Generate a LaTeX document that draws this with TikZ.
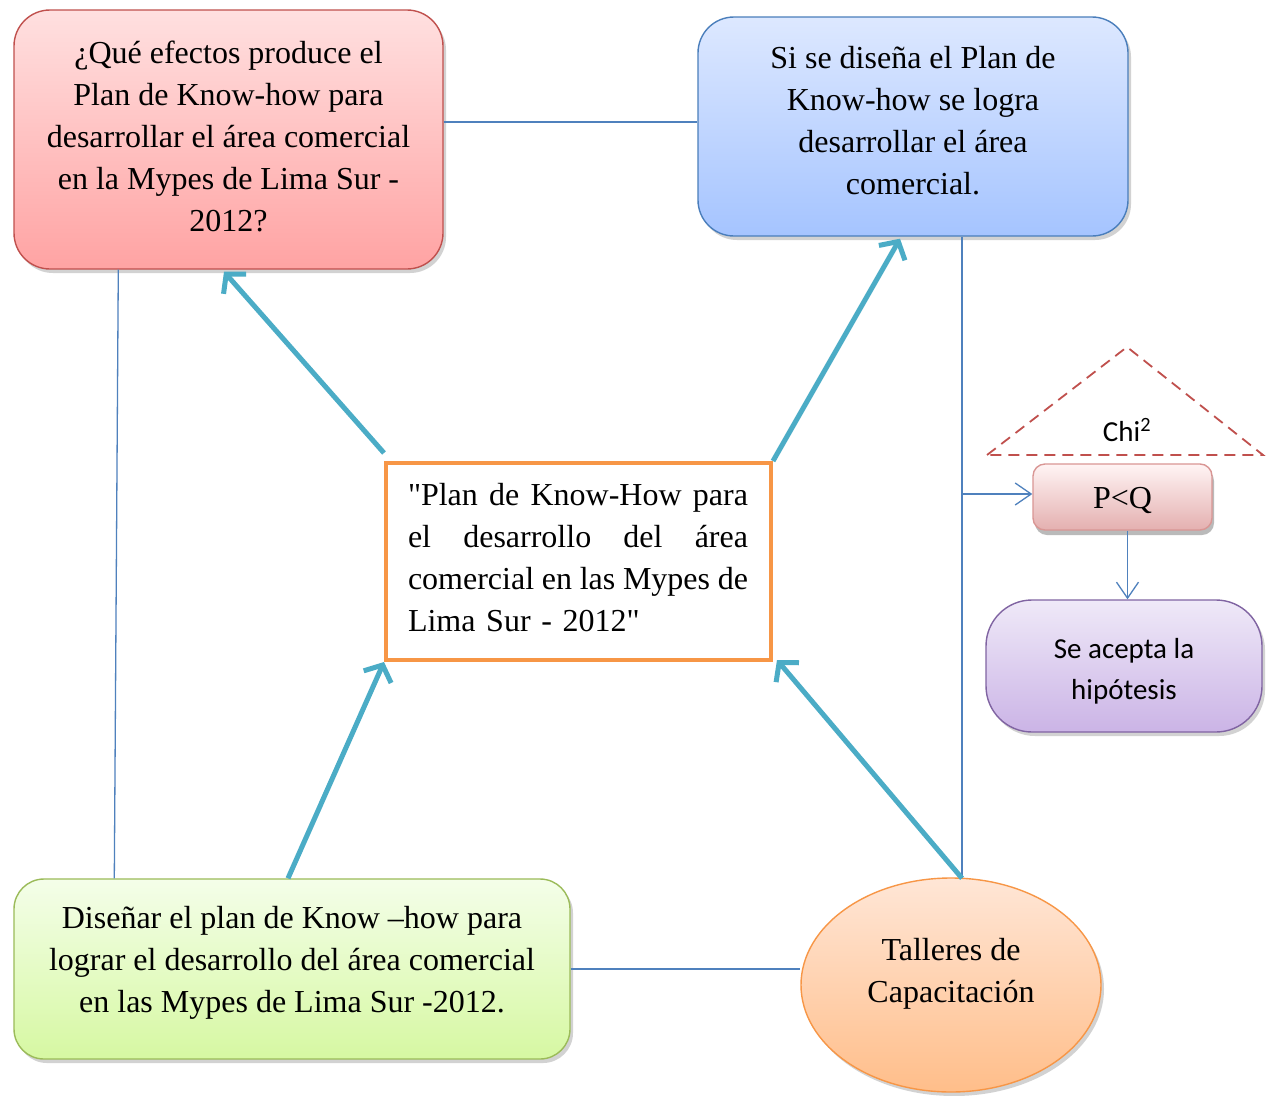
\documentclass[tikz,border=0pt]{standalone}
\usepackage{fontspec}
\setmainfont{Liberation Serif}[Ligatures=TeXOff]
\newfontfamily\calib{Carlito}
\usetikzlibrary{arrows.meta,shadows,shapes.geometric,calc}
\definecolor{redB}{HTML}{C0504D}
\definecolor{redT}{HTML}{FFE0E0}
\definecolor{redL}{HTML}{FFA3A3}
\definecolor{bluB}{HTML}{4A7EBB}
\definecolor{bluT}{HTML}{DDE8FF}
\definecolor{bluL}{HTML}{A5C4FF}
\definecolor{grnB}{HTML}{9BBB59}
\definecolor{grnT}{HTML}{F4FEE9}
\definecolor{grnL}{HTML}{D6F8A2}
\definecolor{orgB}{HTML}{F79646}
\definecolor{orgT}{HTML}{FFE6D6}
\definecolor{orgL}{HTML}{FFBE8A}
\definecolor{pqB}{HTML}{D99694}
\definecolor{pqT}{HTML}{FFF4F4}
\definecolor{pqL}{HTML}{E4B0B0}
\definecolor{purB}{HTML}{8064A2}
\definecolor{purT}{HTML}{EFE9F8}
\definecolor{purL}{HTML}{CBB4E6}
\definecolor{lnk}{HTML}{4F81BD}
\definecolor{tealA}{HTML}{4BACC6}
\newcommand{\jline}[1]{\makebox[340pt][s]{\spaceskip=0.12em plus 1fil #1}}
\begin{document}
\begin{tikzpicture}[x=1pt,y=-1pt,
  shapebox/.style={draw, line width=1.4pt, inner sep=0pt,
    drop shadow={shadow xshift=3pt, shadow yshift=-4pt, opacity=0.25, fill=black!70}},
  txt/.style={font=\fontsize{32}{42}\selectfont, align=center, inner sep=0pt},
  stxt/.style={font=\calib\fontsize{29}{40.5}\selectfont, align=center, inner sep=0pt},
  link/.style={draw=lnk, line width=1.3pt},
  linkarrow/.style={link, -{Straight Barb[length=16pt,width=22pt]}},
  tealarrow/.style={draw=tealA, line width=5pt, -{Straight Barb[length=13pt,width=30pt]}}
]
\useasboundingbox (0,0) rectangle (1274,1095);
\fill[white] (0,0) rectangle (1274,1095);

% shapes
\node[shapebox, rectangle, rounded corners=36pt, draw=redB, top color=redT, bottom color=redL,
      minimum width=429pt, minimum height=259pt] (red) at (228.5,139.5) {};
\node[shapebox, rectangle, rounded corners=36pt, draw=bluB, top color=bluT, bottom color=bluL,
      minimum width=430pt, minimum height=219pt] (blue) at (913,126.5) {};
\node[rectangle, draw=orgB, line width=4pt, fill=white,
      minimum width=385pt, minimum height=197pt, inner sep=0pt] (ctr) at (578.5,561.5) {};
\node[shapebox, rectangle, rounded corners=30pt, draw=grnB, top color=grnT, bottom color=grnL,
      minimum width=556pt, minimum height=180pt] (green) at (292,969) {};
\node[shapebox, ellipse, draw=orgB, top color=orgT, bottom color=orgL,
      minimum width=300pt, minimum height=214pt] (ell) at (951,985) {};
\node[rectangle, rounded corners=12pt, draw=pqB, line width=1.4pt, top color=pqT, bottom color=pqL,
      minimum width=179pt, minimum height=66pt, inner sep=0pt,
      drop shadow={shadow xshift=2pt, shadow yshift=-5pt, opacity=0.45, fill=black!60}] (pq) at (1122.5,497) {};
\node[shapebox, rectangle, rounded corners=46pt, draw=purB, top color=purT, bottom color=purL,
      minimum width=276pt, minimum height=132pt] (hyp) at (1124,666) {};

% dashed triangle
\coordinate (tA) at (1127,347);
\coordinate (tB) at (987,455);
\coordinate (tC) at (1263,455);
\draw[redB, line width=1.8pt, dash pattern=on 11pt off 7pt] (tB) -- (tA) -- (tC) -- cycle;

% texts
\node[txt] (redt) at ([yshift=3pt]red.center) {¿Qué efectos produce el\\Plan de Know-how para\\desarrollar el área comercial\\en la Mypes de Lima Sur -\\2012?};
\node[txt] (bluet) at ([yshift=6pt]blue.center) {Si se diseña el Plan de\\Know-how se logra\\desarrollar el área\\comercial.};
\node[txt, align=left, text width=340pt] (ctrt) at ([xshift=-0.5pt,yshift=4pt]ctr.center)
  {\jline{"Plan de Know-How para}\\\jline{el desarrollo del área}\\\jline{comercial en las Mypes de}\\Lima Sur - 2012"};
\node[txt] (greent) at ([yshift=6pt]green.center) {Diseñar el plan de Know –how para\\lograr el desarrollo del área comercial\\en las Mypes de Lima Sur -2012.};
\node[txt] (ellt) at ([yshift=11pt]ell.center) {Talleres de\\Capacitación};
\node[txt] (pqt) at ([yshift=-3pt]pq.center) {P<Q};
\node[stxt] (hypt) at ([yshift=-5.5pt]hyp.center) {Se acepta la\\hipótesis};
\node[stxt] (chit) at (1127,430) {Chi\textsuperscript{2}};

% thin connectors
\coordinate (jh) at (0,122);
\draw[link] (jh -| red.east) -- (jh -| blue.west);
\draw[link] ([xshift=105pt]red.south west) -- ([xshift=101pt]green.north west);
\coordinate (eltop) at ([xshift=11pt,yshift=-1pt]ell.north);
\draw[link] ([xshift=49pt]blue.south) -- (eltop);
\draw[link] (green.east) -- (green.east -| ell.west);
\coordinate (jv) at (962,494);
\draw[linkarrow] (jv) -- (jv -| pq.west);
\draw[linkarrow] ([xshift=5pt]pq.south) -- ([xshift=3.5pt]hyp.north);

% teal arrows
\draw[tealarrow] ([yshift=8pt]ctr.north west) -- ([xshift=-4.5pt,yshift=-2pt]red.south);
\draw[tealarrow] (ctr.north east) -- ([xshift=-13pt,yshift=-2pt]blue.south);
\draw[tealarrow] ([xshift=-4pt]green.north) -- (ctr.south west);
\draw[tealarrow] (eltop) -- ([xshift=4pt,yshift=2pt]ctr.south east);
\end{tikzpicture}
\end{document}
